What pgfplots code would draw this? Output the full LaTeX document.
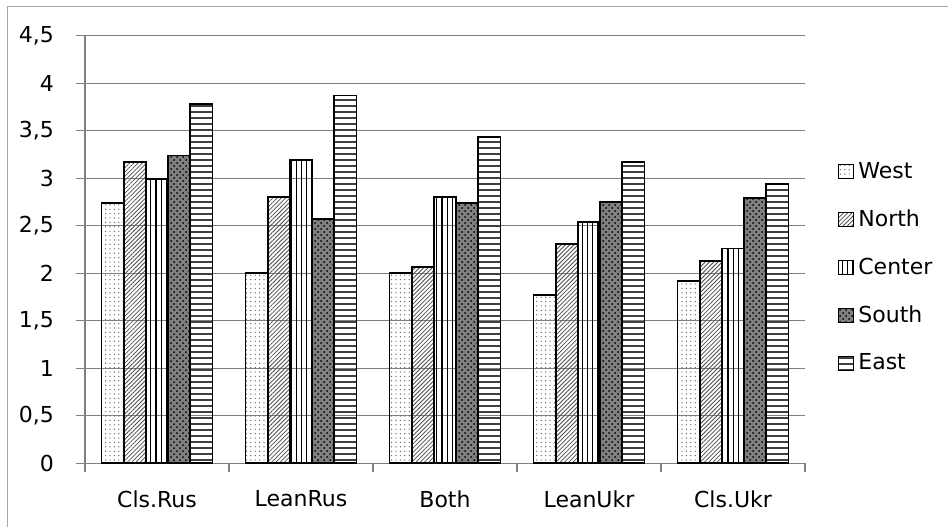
\documentclass[border=0pt]{standalone}
\usepackage{fontspec}
\setmainfont{DejaVu Sans}
\usepackage{pgfplots}
\usepackage{pgfplotstable}
\pgfplotsset{compat=1.18}
\usetikzlibrary{patterns,patterns.meta}

\pgfplotstableread{
x West North Center South East
0 2.74 3.17 2.99 3.24 3.78
1 2.00 2.80 3.19 2.57 3.87
2 2.00 2.07 2.80 2.74 3.43
3 1.77 2.31 2.54 2.75 3.17
4 1.92 2.13 2.26 2.79 2.94
}\datatable

\begin{document}
\begin{tikzpicture}[font=\fontsize{11}{13}\selectfont]
\useasboundingbox (0,0) rectangle (474pt,263pt);
\draw[gray!70, line width=0.5pt] (3.65pt,-1pt) -- (3.65pt,259.5pt) -- (475pt,259.5pt);
\begin{axis}[
  at={(42.5pt,31.35pt)}, anchor=south west,
  scale only axis, width=360pt, height=213.8pt,
  xmin=-0.5, xmax=4.5, ymin=0, ymax=4.5,
  axis x line*=bottom, axis y line*=left,
  axis line style={gray, line width=0.6pt},
  ytick={0,0.5,1,1.5,2,2.5,3,3.5,4,4.5},
  ymajorgrids, grid style={gray, line width=0.5pt},
  xtick={0,1,2,3,4}, xticklabels={Cls.Rus,LeanRus,Both,LeanUkr,Cls.Ukr},
  minor xtick={-0.5,0.5,1.5,2.5,3.5,4.5},
  major x tick style={draw=none},
  tick align=outside, major tick length=4.5pt, minor tick length=4.5pt,
  every tick/.style={gray, line width=0.6pt},
  xticklabel style={yshift=-5.5pt},
  yticklabel style={xshift=-7.5pt},
  /pgf/number format/use comma, /pgf/number format/assume math mode=true,
  ybar, bar width=0.154,
  legend style={at={(1.045,0.458)}, anchor=west, draw=none, fill=none, inner sep=0pt,
    row sep=10.25pt, font=\fontsize{11}{13}\selectfont,
    /tikz/every even column/.append style={column sep=0.5pt}},
  legend cell align=left,
  legend image code/.code={\draw[#1, line width=0.5pt] (0pt,-3.6pt) rectangle (7.8pt,3.6pt);},
]
\addplot[bar shift=-0.308, draw=black, line width=0.9pt, pattern={Dots[distance=2.2pt,radius=0.35pt]}, pattern color=black!60] table[x=x,y=West]{\datatable};
\addplot[bar shift=-0.154, draw=black, line width=0.9pt, pattern={Lines[angle=45,distance=1.5pt,line width=0.4pt]}, pattern color=black!70] table[x=x,y=North]{\datatable};
\addplot[bar shift=0, draw=black, line width=0.9pt, pattern={Lines[angle=90,distance=2.6pt,line width=0.55pt]}, pattern color=black] table[x=x,y=Center]{\datatable};
\addplot[bar shift=0.154, draw=black, line width=0.9pt, fill=black!50, postaction={pattern=crosshatch dots, pattern color=black}] table[x=x,y=South]{\datatable};
\addplot[bar shift=0.308, draw=black, line width=0.9pt, pattern={Lines[angle=0,distance=3pt,line width=0.6pt]}, pattern color=black!75] table[x=x,y=East]{\datatable};
\legend{West,North,Center,South,East}
\end{axis}
\end{tikzpicture}
\end{document}
